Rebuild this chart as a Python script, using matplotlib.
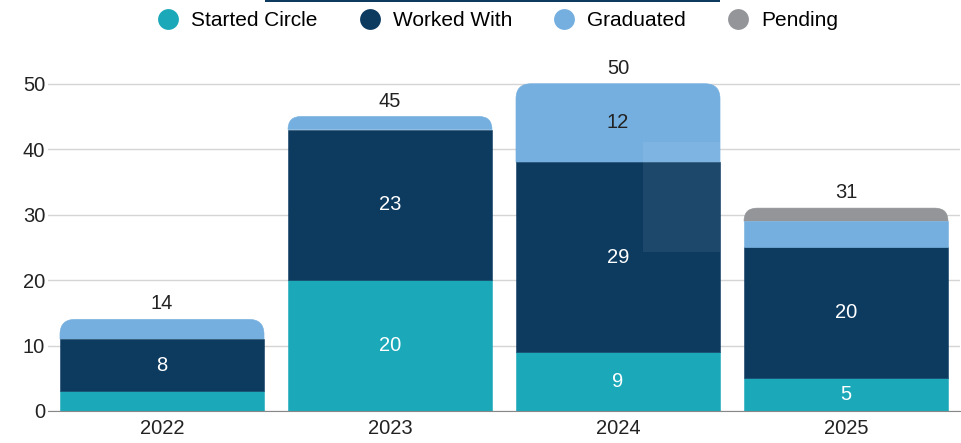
import matplotlib
matplotlib.use("Agg")
import matplotlib.pyplot as plt
from matplotlib.path import Path
from matplotlib.patches import PathPatch, Rectangle
from matplotlib.lines import Line2D

plt.rcParams['font.family'] = ['Liberation Sans', 'DejaVu Sans']

years = ["2022", "2023", "2024", "2025"]
series_names = ["Started Circle", "Worked With", "Graduated", "Pending"]
started = [3, 20, 9, 5]
worked = [8, 23, 29, 20]
graduated = [3, 2, 12, 4]
pending = [0, 0, 0, 2]
colors = ["#1BA9BA", "#0D3B60", "#74AFDF", "#939598"]
label_colors = ["white", "white", "#222222", "#222222"]
min_label = 5

W, H, DPI = 961, 443, 100
FS = 14.5
fig = plt.figure(figsize=(W / DPI, H / DPI), dpi=DPI)
ax_l, ax_b, ax_w, ax_h = 48 / W, (H - 411) / H, 912 / W, 360 / H
ax = fig.add_axes([ax_l, ax_b, ax_w, ax_h])
ymax = 55
ax.set_xlim(-0.5, 3.5)
ax.set_ylim(0, ymax)

bar_w = 0.895
radius_px = 15
px_per_x = 912 / 4.0
px_per_y = 360 / ymax


def top_round_path(x0, x1, y0, y1):
    h_px = (y1 - y0) * px_per_y
    r_px = min(radius_px, h_px)
    ryy = r_px / px_per_y
    rxx = r_px / px_per_x
    verts = [(x0, y0), (x1, y0), (x1, y1 - ryy), (x1, y1), (x1 - rxx, y1),
             (x0 + rxx, y1), (x0, y1), (x0, y1 - ryy), (x0, y0)]
    codes = [Path.MOVETO, Path.LINETO, Path.LINETO, Path.CURVE3, Path.CURVE3,
             Path.LINETO, Path.CURVE3, Path.CURVE3, Path.CLOSEPOLY]
    return Path(verts, codes)


data = [started, worked, graduated, pending]
for i, yr in enumerate(years):
    vals = [s[i] for s in data]
    nz = [k for k, v in enumerate(vals) if v > 0]
    top_k = nz[-1]
    bottom = 0
    x0, x1 = i - bar_w / 2, i + bar_w / 2
    for k, v in enumerate(vals):
        if v <= 0:
            continue
        if k == top_k:
            p = PathPatch(top_round_path(x0, x1, bottom, bottom + v),
                          facecolor=colors[k], edgecolor=colors[k],
                          linewidth=0.4, zorder=3)
            ax.add_patch(p)
        else:
            ax.bar(i, v, bottom=bottom, width=bar_w, color=colors[k],
                   edgecolor=colors[k], linewidth=0.4, zorder=3 + k * 0.01)
        if v >= min_label:
            ax.text(i, bottom + v / 2, str(v), ha='center', va='center',
                    color=label_colors[k], fontsize=FS, zorder=5)
        bottom += v
    ax.text(i, bottom + 0.9, str(bottom), ha='center', va='bottom',
            color='#222222', fontsize=FS, zorder=5)

ax.set_xticks(range(len(years)))
ax.set_xticklabels(years)
ax.set_yticks([0, 10, 20, 30, 40, 50])
ax.tick_params(axis='both', length=0, labelsize=FS, colors='#222222')
ax.tick_params(axis='y', pad=2)
ax.tick_params(axis='x', pad=6)
ax.grid(axis='y', color='#D5D5D5', linewidth=1, zorder=0)
ax.set_axisbelow(True)
for s in ['top', 'right', 'left']:
    ax.spines[s].set_visible(False)
ax.spines['bottom'].set_color('#888888')
ax.spines['bottom'].set_zorder(4)

handles = [Line2D([0], [0], marker='o', color='none', markerfacecolor=c,
                  markeredgecolor='none', markersize=15) for c in colors]
fig.legend(handles, series_names, loc='center',
           bbox_to_anchor=(498 / W, 1 - 21 / H),
           ncol=4, frameon=False, fontsize=15, handletextpad=0.6,
           columnspacing=2.0, handlelength=1.0)

# hover artifacts from the original screenshot
fig.patches.append(Rectangle((265 / W, 1 - 2 / H), 455 / W, 2 / H,
                             transform=fig.transFigure, facecolor='#0D3B60',
                             edgecolor='none', zorder=10))
fig.patches.append(Rectangle((643 / W, 1 - 252 / H), 77 / W, 110 / H,
                             transform=fig.transFigure, facecolor='white',
                             alpha=0.07, edgecolor='none', zorder=10))

fig.savefig("out.png", dpi=DPI)
